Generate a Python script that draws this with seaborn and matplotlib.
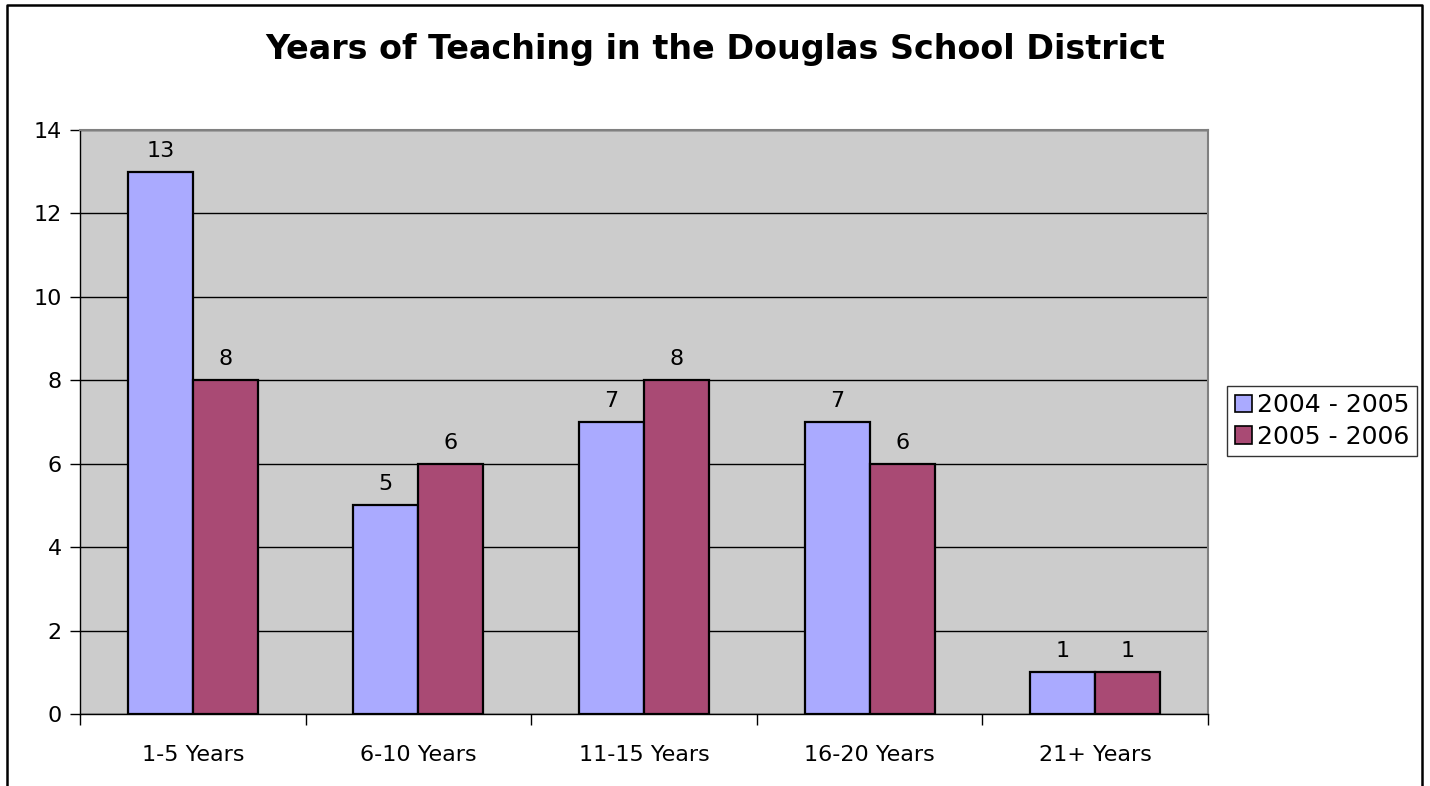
import matplotlib
matplotlib.use("Agg")
import matplotlib.pyplot as plt
from matplotlib.lines import Line2D
from matplotlib.patches import Patch
import seaborn as sns
import pandas as pd

categories = ["1-5 Years", "6-10 Years", "11-15 Years", "16-20 Years", "21+ Years"]
series_names = ["2004 - 2005", "2005 - 2006"]
values_2004 = [13, 5, 7, 7, 1]
values_2005 = [8, 6, 8, 6, 1]
title = "Years of Teaching in the Douglas School District"
colors = ["#AAAAFF", "#A94A74"]

df = pd.DataFrame({
    "category": categories * 2,
    "series": [series_names[0]] * len(categories) + [series_names[1]] * len(categories),
    "value": values_2004 + values_2005,
})

sns.set_theme(style="white")
plt.rcParams['font.family'] = ['DejaVu Sans']
plt.rcParams['text.color'] = 'black'
plt.rcParams['xtick.color'] = 'black'
plt.rcParams['ytick.color'] = 'black'
plt.rcParams['xtick.labelcolor'] = 'black'
plt.rcParams['ytick.labelcolor'] = 'black'

W, H = 1430, 786
fig = plt.figure(figsize=(W / 100, H / 100), dpi=100)
ax = fig.add_axes([80 / W, 1 - 714 / H, (1208 - 80) / W, (714 - 130) / H])
ax.set_facecolor("#CCCCCC")

sns.barplot(data=df, x="category", y="value", hue="series", order=categories,
            hue_order=series_names, palette=colors, width=0.576, gap=0,
            edgecolor="black", linewidth=1.6, saturation=1, ax=ax, legend=False,
            zorder=3)

ax.set_ylim(0, 14)
ax.set_xlim(-0.5, len(categories) - 0.5)
ax.set_yticks(range(0, 15, 2))
ax.yaxis.grid(True, color="black", linewidth=1.0, zorder=1)
ax.set_axisbelow(True)
ax.set_xlabel("")
ax.set_ylabel("")

for spine in ["top", "right"]:
    ax.spines[spine].set_color("#808080")
    ax.spines[spine].set_linewidth(1.5)
for spine in ["left", "bottom"]:
    ax.spines[spine].set_color("black")
    ax.spines[spine].set_linewidth(1.0)

ax.tick_params(axis="y", which="major", direction="out", length=7, width=1,
               color="black", labelsize=16, pad=6, left=True, labelcolor="black")
ax.set_xticks(range(len(categories)))
ax.set_xticklabels(categories)
ax.tick_params(axis="x", which="major", length=0, labelsize=16, pad=22,
               labelcolor="black")
ax.set_xticks([i - 0.5 for i in range(len(categories) + 1)], minor=True)
ax.tick_params(axis="x", which="minor", direction="out", length=8, width=1,
               color="black", bottom=True)

for container in ax.containers:
    ax.bar_label(container, fmt="%d", padding=8, fontsize=16, color="black")

fig.text(715 / W, 1 - 50 / H, title, fontsize=24, fontweight="bold",
         ha="center", va="center", color="black")

handles = [Patch(facecolor=c, edgecolor="black", linewidth=1.2) for c in colors]
leg = fig.legend(handles, series_names, loc="center left",
                 bbox_to_anchor=(1227 / W, 1 - 421 / H), fontsize=18,
                 frameon=True, fancybox=False, edgecolor="black",
                 handlelength=0.7, handleheight=0.7, handletextpad=0.2,
                 borderpad=0.3, labelspacing=0.3, borderaxespad=0)
leg.get_frame().set_linewidth(1.0)
for t in leg.get_texts():
    t.set_color("black")

# figure border (left, top, right)
bx0, bx1, by0 = 7 / W, 1422 / W, 1 - 5 / H
fig.add_artist(Line2D([bx0, bx0, bx1, bx1], [0, by0, by0, 0],
                      transform=fig.transFigure, color="black", linewidth=1.8))

fig.savefig("out.png", dpi=100, facecolor="white")
